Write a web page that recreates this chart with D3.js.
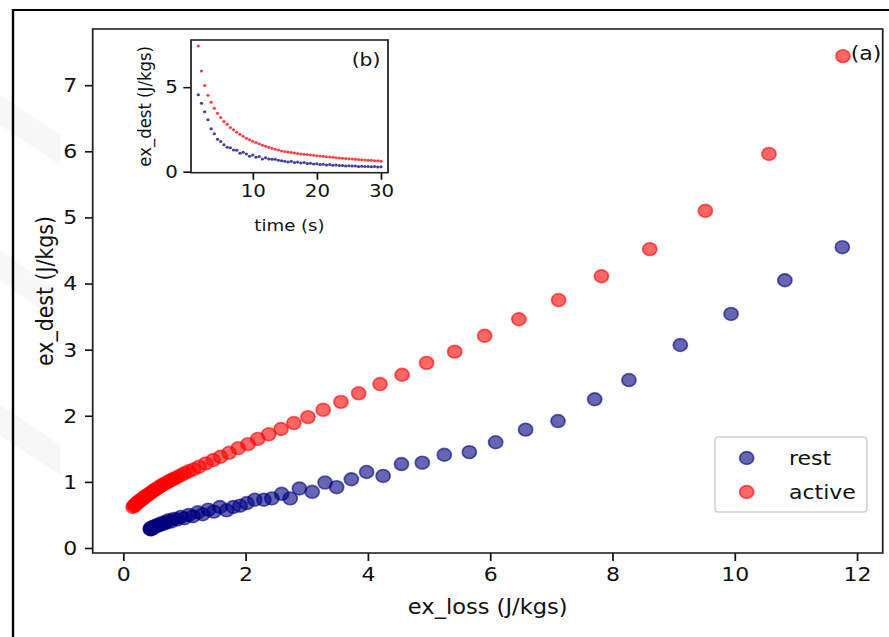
<!DOCTYPE html>
<html>
<head>
<meta charset="utf-8">
<script src="https://cdn.jsdelivr.net/npm/d3@7"></script>
<style>
  body { margin: 0; background: #fff; }
  text { font-family: "DejaVu Sans", sans-serif; fill: #111; }
</style>
</head>
<body>
<svg width="889" height="637"></svg>
<script>
// time (s) of each sample, shared by both groups
var times = [1.5, 2, 2.5, 3, 3.5, 4, 4.5, 5, 5.5, 6, 6.5, 7, 7.5, 8, 8.5, 9, 9.5, 10,
  10.5, 11, 11.5, 12, 12.5, 13, 13.5, 14, 14.5, 15, 15.5, 16, 16.5, 17, 17.5, 18, 18.5,
  19, 19.5, 20, 20.5, 21, 21.5, 22, 22.5, 23, 23.5, 24, 24.5, 25, 25.5, 26, 26.5, 27,
  27.5, 28, 28.5, 29, 29.5, 30];

var restLoss = [11.76, 10.82, 9.94, 9.11, 8.27, 7.71, 7.11, 6.58, 6.09, 5.66, 5.25, 4.89,
  4.55, 4.25, 3.98, 3.73, 3.49, 3.30, 3.09, 2.88, 2.73, 2.59, 2.43, 2.30, 2.15, 2.02,
  1.91, 1.80, 1.69, 1.58, 1.48, 1.39, 1.30, 1.22, 1.14, 1.07, 1.00, 0.94, 0.88, 0.83,
  0.78, 0.74, 0.70, 0.67, 0.64, 0.61, 0.58, 0.56, 0.54, 0.52, 0.50, 0.49, 0.48, 0.47,
  0.46, 0.45, 0.45, 0.44];
var restDest = [4.55, 4.05, 3.54, 3.07, 2.54, 2.25, 1.92, 1.79, 1.60, 1.45, 1.41, 1.29,
  1.27, 1.09, 1.15, 1.04, 0.92, 0.99, 0.85, 0.90, 0.75, 0.82, 0.75, 0.73, 0.73, 0.68,
  0.64, 0.62, 0.57, 0.62, 0.55, 0.58, 0.51, 0.54, 0.48, 0.50, 0.45, 0.47, 0.43, 0.44,
  0.40, 0.42, 0.38, 0.39, 0.36, 0.37, 0.34, 0.35, 0.33, 0.33, 0.31, 0.32, 0.30, 0.31,
  0.29, 0.30, 0.28, 0.29];

var activeLoss = [11.77, 10.56, 9.52, 8.61, 7.82, 7.12, 6.47, 5.91, 5.42, 4.96, 4.56, 4.20,
  3.85, 3.56, 3.27, 3.02, 2.79, 2.58, 2.38, 2.20, 2.04, 1.88, 1.73, 1.59, 1.47, 1.35,
  1.24, 1.15, 1.07, 1.00, 0.94, 0.88, 0.83, 0.79, 0.75, 0.71, 0.67, 0.63, 0.60, 0.57,
  0.53, 0.50, 0.47, 0.44, 0.41, 0.38, 0.36, 0.34, 0.32, 0.30, 0.28, 0.26, 0.24, 0.23,
  0.21, 0.19, 0.18, 0.16];
var activeDest = [7.44, 5.96, 5.10, 4.52, 4.11, 3.75, 3.46, 3.21, 2.97, 2.80, 2.62, 2.48,
  2.34, 2.21, 2.09, 1.98, 1.89, 1.80, 1.72, 1.65, 1.57, 1.51, 1.44, 1.38, 1.33, 1.28,
  1.23, 1.19, 1.16, 1.13, 1.10, 1.07, 1.05, 1.03, 1.01, 0.99, 0.97, 0.95, 0.93, 0.91,
  0.89, 0.87, 0.85, 0.83, 0.81, 0.79, 0.78, 0.76, 0.75, 0.73, 0.72, 0.71, 0.69, 0.68,
  0.67, 0.65, 0.64, 0.62];

var xTicks = [0, 2, 4, 6, 8, 10, 12];
var yTicks = [0, 1, 2, 3, 4, 5, 6, 7];
var insetXTicks = [10, 20, 30];
var insetYTicks = [0, 5];

var series = [
  {name: "rest", color: "#000080", loss: restLoss, dest: restDest},
  {name: "active", color: "#ff0000", loss: activeLoss, dest: activeDest}
];

var svg = d3.select("svg");
// the figure is a bit wider than tall, so everything is drawn in a stretched group
var sx = 1.1;
var root = svg.append("g").attr("transform", "scale(" + sx + ",1)");

// very faint background marks on the left
var wm = root.append("g").attr("fill", "#f7f7f7");
[[95, 55], [250, 50], [405, 55]].forEach(function(d) {
  wm.append("path")
    .attr("d", "M0," + d[0] + " L" + d[1] + "," + (d[0] + 40) + " L" + d[1] + "," + (d[0] + 70) +
      " L0," + (d[0] + 30) + " Z");
});

// outer frame
root.append("path")
  .attr("d", "M" + (13 / sx) + ",640 V10 H900")
  .attr("fill", "none").attr("stroke", "#000").attr("stroke-width", 2.2);

var m = {left: 92.7 / sx, right: 882.7 / sx, top: 29, bottom: 553};

var x = d3.scaleLinear().domain([-0.5, 12.42]).range([m.left, m.right]);
var y = d3.scaleLinear().domain([-0.0756, 7.85]).range([m.bottom, m.top]);

var main = root.append("g");

main.append("g")
  .attr("transform", "translate(0," + m.bottom + ")")
  .call(d3.axisBottom(x).tickValues(xTicks).tickSize(8).tickPadding(6).tickFormat(d3.format("d")))
  .call(function(g) { g.select(".domain").remove(); })
  .selectAll("text").attr("font-size", 20).attr("font-family", "DejaVu Sans").attr("fill", "#111");

main.append("g")
  .attr("transform", "translate(" + m.left + ",0)")
  .call(d3.axisLeft(y).tickValues(yTicks).tickSize(7).tickPadding(7).tickFormat(d3.format("d")))
  .call(function(g) { g.select(".domain").remove(); })
  .selectAll("text").attr("font-size", 20).attr("font-family", "DejaVu Sans").attr("fill", "#111");

main.selectAll(".tick line").attr("stroke", "#111").attr("stroke-width", 1.6);

series.forEach(function(s) {
  main.append("g").selectAll("circle")
    .data(s.loss.map(function(v, i) { return [v, s.dest[i]]; }))
    .enter().append("circle")
      .attr("cx", function(d) { return x(d[0]); })
      .attr("cy", function(d) { return y(d[1]); })
      .attr("r", 6.4)
      .attr("fill", s.color).attr("fill-opacity", 0.6)
      .attr("stroke", s.color).attr("stroke-opacity", 0.6).attr("stroke-width", 1.6);
});

main.append("rect")
  .attr("x", m.left).attr("y", m.top)
  .attr("width", m.right - m.left).attr("height", m.bottom - m.top)
  .attr("fill", "none").attr("stroke", "#222").attr("stroke-width", 1.6);

main.append("text")
  .attr("x", (m.left + m.right) / 2).attr("y", 614)
  .attr("text-anchor", "middle").attr("font-size", 20.5)
  .text("ex_loss (J/kgs)");

main.append("text")
  .attr("transform", "translate(47.9," + (m.top + m.bottom) / 2 + ") rotate(-90)")
  .attr("text-anchor", "middle").attr("font-size", 20.5)
  .text("ex_dest (J/kgs)");

main.append("text")
  .attr("x", 773.4).attr("y", 60.5).attr("font-size", 20)
  .text("(a)");

// legend
var lg = main.append("g").attr("transform", "translate(" + (715 / sx) + ",437)");
lg.append("rect")
  .attr("width", 152 / sx).attr("height", 75).attr("rx", 3)
  .attr("fill", "#fff").attr("fill-opacity", 0.8)
  .attr("stroke", "#d0d0d0").attr("stroke-width", 1.4);
series.forEach(function(s, i) {
  var row = lg.append("g").attr("transform", "translate(0," + (21 + i * 34) + ")");
  row.append("circle")
    .attr("cx", 31.7 / sx).attr("cy", 0).attr("r", 6.4)
    .attr("fill", s.color).attr("fill-opacity", 0.6)
    .attr("stroke", s.color).attr("stroke-opacity", 0.6).attr("stroke-width", 1.6);
  row.append("text")
    .attr("x", 74 / sx).attr("y", 7).attr("font-size", 20)
    .text(s.name);
});

// inset (b): ex_dest against time
var im = {left: 191 / sx, right: 388 / sx, top: 40, bottom: 172.7};
var ix = d3.scaleLinear().domain([0.36, 31.1]).range([im.left, im.right]);
var iy = d3.scaleLinear().domain([-0.06, 7.79]).range([im.bottom, im.top]);

var inset = root.append("g");

inset.append("g")
  .attr("transform", "translate(0," + im.bottom + ")")
  .call(d3.axisBottom(ix).tickValues(insetXTicks).tickSize(7).tickPadding(5).tickFormat(d3.format("d")))
  .call(function(g) { g.select(".domain").remove(); })
  .selectAll("text").attr("font-size", 18).attr("font-family", "DejaVu Sans").attr("fill", "#111");

inset.append("g")
  .attr("transform", "translate(" + im.left + ",0)")
  .call(d3.axisLeft(iy).tickValues(insetYTicks).tickSize(7).tickPadding(5).tickFormat(d3.format("d")))
  .call(function(g) { g.select(".domain").remove(); })
  .selectAll("text").attr("font-size", 18).attr("font-family", "DejaVu Sans").attr("fill", "#111");

inset.selectAll(".tick line").attr("stroke", "#111").attr("stroke-width", 1.6);

series.forEach(function(s) {
  inset.append("g").selectAll("circle")
    .data(times.map(function(t, i) { return [t, s.dest[i]]; }))
    .enter().append("circle")
      .attr("cx", function(d) { return ix(d[0]); })
      .attr("cy", function(d) { return iy(d[1]); })
      .attr("r", 1.5)
      .attr("fill", s.color).attr("fill-opacity", 0.75);
});

inset.append("rect")
  .attr("x", im.left).attr("y", im.top)
  .attr("width", im.right - im.left).attr("height", im.bottom - im.top)
  .attr("fill", "none").attr("stroke", "#222").attr("stroke-width", 1.6);

inset.append("text")
  .attr("x", (im.left + im.right) / 2).attr("y", 231)
  .attr("text-anchor", "middle").attr("font-size", 16.5)
  .text("time (s)");

inset.append("text")
  .attr("transform", "translate(137," + (im.top + im.bottom) / 2 + ") rotate(-90)")
  .attr("text-anchor", "middle").attr("font-size", 16.5)
  .text("ex_dest (J/kgs)");

inset.append("text")
  .attr("x", 319.7).attr("y", 65.7).attr("font-size", 18.5)
  .text("(b)");
</script>
</body>
</html>
